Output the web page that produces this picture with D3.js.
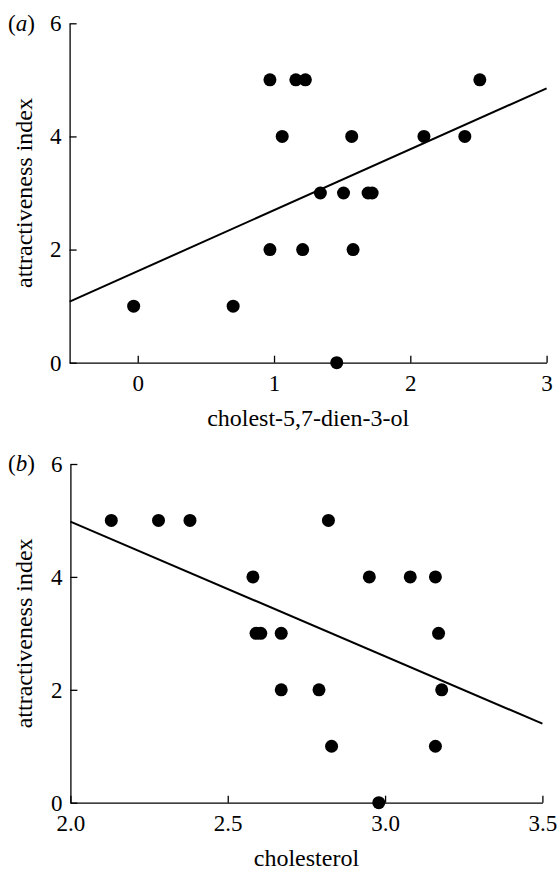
<!DOCTYPE html>
<html>
<head>
<meta charset="utf-8">
<script src="https://cdn.jsdelivr.net/npm/d3@7"></script>
<style>
    body { margin: 0; background: #ffffff; }
    svg { display: block; }
    .axis path, .axis line { stroke: #000; stroke-width: 1.3; }
    .axis text { font-family: "Liberation Serif", "Times New Roman", serif; font-size: 23px; fill: #000; }
    .label { font-family: "Liberation Serif", "Times New Roman", serif; font-size: 24px; fill: #000; }
</style>
</head>
<body>
<div id="chart"></div>
<script>
// panel (a): cholest-5,7-dien-3-ol vs attractiveness
const cholestadienol = [-0.03, 0.70, 0.97, 1.16, 1.23, 2.51, 1.06, 1.57, 2.10, 2.40, 1.34, 1.51, 1.69, 1.72, 0.97, 1.21, 1.58, 1.46];
const attractA       = [1, 1, 5, 5, 5, 5, 4, 4, 4, 4, 3, 3, 3, 3, 2, 2, 2, 0];
const fitA = [[-0.5, 1.08], [3, 4.85]];
const ticksAx = [0, 1, 2, 3];

// panel (b): cholesterol vs attractiveness
const cholesterol = [2.13, 2.28, 2.38, 2.82, 2.58, 2.95, 3.08, 3.16, 2.59, 2.605, 2.67, 3.17, 2.67, 2.79, 3.18, 2.83, 3.16, 2.98];
const attractB    = [5, 5, 5, 5, 4, 4, 4, 4, 3, 3, 3, 3, 2, 2, 2, 1, 1, 0];
const fitB = [[2.0, 4.98], [3.5, 1.40]];
const ticksBx = [2.0, 2.5, 3.0, 3.5];

const ticksY = [0, 2, 4, 6];

var width = 558,
    height = 870;

var svg = d3.select("#chart")
    .append("svg")
    .attr("width", width)
    .attr("height", height);

function panel(opts) {
    var g = svg.append("g");

    var x = d3.scaleLinear().domain(opts.xDomain).range([opts.left, opts.right]);
    var y = d3.scaleLinear().domain([0, 6]).range([opts.bottom, opts.top]);

    // regression line
    g.append("path")
        .datum(opts.fit)
        .attr("d", d3.line().x(d => x(d[0])).y(d => y(d[1])))
        .style("fill", "none")
        .style("stroke", "#000")
        .style("stroke-width", 2);

    // points
    g.selectAll("circle")
        .data(opts.xs)
        .enter()
        .append("circle")
        .attr("cx", d => x(d))
        .attr("cy", (d, i) => y(opts.ys[i]))
        .attr("r", 6.5)
        .style("fill", "#000");

    // axes, ticks point inward
    g.append("g")
        .attr("class", "axis")
        .attr("transform", "translate(0," + opts.bottom + ")")
        .call(d3.axisBottom(x).tickValues(opts.xTicks).tickFormat(opts.xFormat)
            .tickSizeInner(-7).tickSizeOuter(0).tickPadding(12));

    g.append("g")
        .attr("class", "axis")
        .attr("transform", "translate(" + opts.left + ",0)")
        .call(d3.axisLeft(y).tickValues(ticksY).tickFormat(d3.format("d"))
            .tickSizeInner(-7).tickSizeOuter(0).tickPadding(8));

    // axis titles
    g.append("text")
        .attr("class", "label")
        .attr("x", (opts.left + opts.right) / 2)
        .attr("y", opts.bottom + 63)
        .style("text-anchor", "middle")
        .text(opts.xLabel);

    g.append("text")
        .attr("class", "label")
        .attr("transform", "translate(32," + (opts.top + opts.bottom) / 2 + ") rotate(-90)")
        .style("text-anchor", "middle")
        .text("attractiveness index");

    // panel letter
    var tag = g.append("text")
        .attr("class", "label")
        .attr("x", 8)
        .attr("y", opts.top)
        .attr("dy", "0.32em")
        .style("font-size", "23px");
    tag.append("tspan").text("(");
    tag.append("tspan").style("font-style", "italic").text(opts.tag);
    tag.append("tspan").text(")");
}

panel({
    xs: cholestadienol, ys: attractA, fit: fitA,
    xDomain: [-0.5, 3], xTicks: ticksAx, xFormat: d3.format("d"),
    left: 69.6, right: 546.6, top: 23.3, bottom: 362.7,
    xLabel: "cholest-5,7-dien-3-ol", tag: "a"
});

panel({
    xs: cholesterol, ys: attractB, fit: fitB,
    xDomain: [2, 3.5], xTicks: ticksBx, xFormat: d3.format(".1f"),
    left: 70.4, right: 542.4, top: 464, bottom: 802.7,
    xLabel: "cholesterol", tag: "b"
});
</script>
</body>
</html>
